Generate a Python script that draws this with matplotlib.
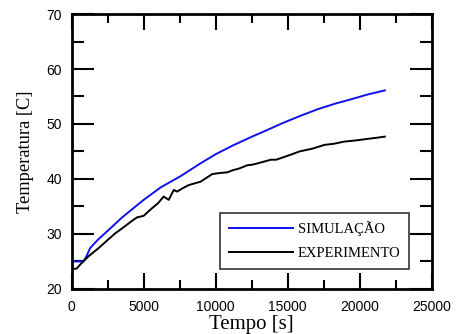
import numpy as np
import matplotlib.pyplot as plt
from matplotlib.ticker import MultipleLocator

# values
t_sim = [0, 400, 810, 1000, 1277, 1800, 2555, 3500, 5000, 6200, 7557, 8800,
         10000, 11200, 12440, 13490, 14770, 16000, 17100, 18300, 19420, 20600, 21750]
T_sim = [25.0, 25.0, 25.0, 25.8, 27.4, 28.9, 30.7, 33.0, 36.2, 38.5, 40.5, 42.6,
         44.5, 46.1, 47.6, 48.8, 50.3, 51.6, 52.7, 53.7, 54.5, 55.4, 56.1]

t_exp = [0, 350, 580, 810, 1200, 1860, 2500, 3020, 3600, 4200, 4530, 5000,
         5500, 6000, 6390, 6740, 7090, 7320, 7700, 8140, 8950, 9300, 9770,
         10350, 10800, 11200, 11630, 12210, 12560, 13000, 13840, 14200,
         14540, 15200, 15810, 16700, 17560, 18200, 18950, 19700, 20580, 21200, 21750]
T_exp = [23.6, 23.7, 24.4, 25.0, 26.0, 27.4, 28.9, 30.1, 31.2, 32.4, 33.0, 33.3,
         34.5, 35.6, 36.8, 36.2, 38.0, 37.7, 38.3, 38.9, 39.5, 40.1, 40.9,
         41.1, 41.2, 41.6, 41.9, 42.5, 42.6, 42.9, 43.5, 43.5,
         43.8, 44.4, 45.0, 45.5, 46.2, 46.4, 46.8, 47.0, 47.3, 47.5, 47.7]

fig = plt.figure(figsize=(4.58, 3.34), dpi=100)
ax = fig.add_axes([0.1565, 0.135, 0.786, 0.823])

ax.plot(t_sim, T_sim, color="#1010ee", lw=1.4, label="SIMULAÇÃO")
ax.plot(t_exp, T_exp, color="black", lw=1.4, label="EXPERIMENTO")

ax.set_xlim(0, 25000)
ax.set_ylim(20, 70)
ax.xaxis.set_major_locator(MultipleLocator(5000))
ax.xaxis.set_minor_locator(MultipleLocator(2500))
ax.yaxis.set_major_locator(MultipleLocator(10))
ax.yaxis.set_minor_locator(MultipleLocator(5))

ax.tick_params(which="both", direction="in", top=True, right=True, width=1.5,
               labelsize=10)
ax.tick_params(axis="x", which="major", length=11.5, pad=8)
ax.tick_params(axis="x", which="minor", length=6.5)
ax.tick_params(axis="y", which="major", length=16, pad=7)
ax.tick_params(axis="y", which="minor", length=8.4)
for lab in ax.get_xticklabels() + ax.get_yticklabels():
    lab.set_family("Liberation Sans")
for s in ax.spines.values():
    s.set_linewidth(2)

ax.set_xlabel("Tempo [s]", family="Liberation Serif", fontsize=15, labelpad=1)
ax.set_ylabel("Temperatura [C]", family="Liberation Serif", fontsize=13.3,
              labelpad=9)

leg = ax.legend(loc="lower right", bbox_to_anchor=(0.938, 0.074),
                prop={"family": "Liberation Serif", "size": 10.5},
                frameon=True, fancybox=False, edgecolor="black",
                handlelength=4.4, borderpad=0.6, labelspacing=0.7,
                handletextpad=0.35, borderaxespad=0)
leg.get_frame().set_linewidth(1.2)

fig.savefig("out.png", dpi=100)
